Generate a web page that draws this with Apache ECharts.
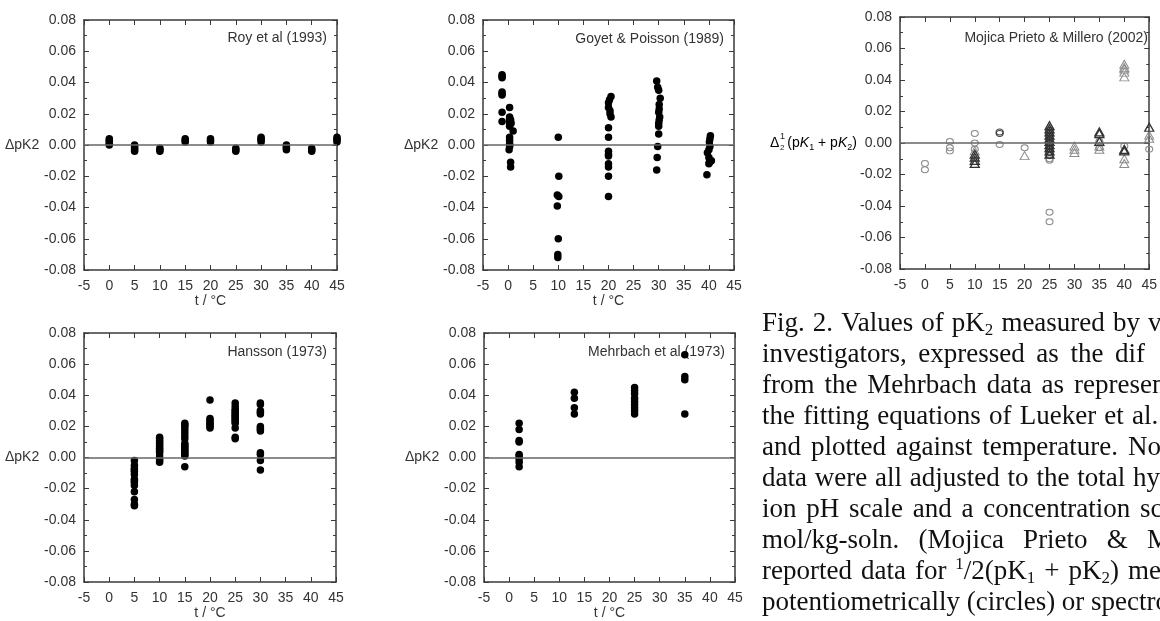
<!DOCTYPE html>
<html><head><meta charset="utf-8">
<script src="https://cdn.jsdelivr.net/npm/echarts@6/dist/echarts.min.js"></script>
<style>html,body{margin:0;padding:0;background:#fff}#c{width:1160px;height:621px}</style>
</head><body><div id="c"></div>
<script>
// ---------------- DATA ----------------
const xTickRange = [-5, 45, 5];
const yTickRange = [-0.08, 0.08, 0.02];

const panelTitles = ['Roy et al (1993)', 'Goyet & Poisson (1989)', 'Mojica Prieto & Millero (2002)', 'Hansson (1973)', 'Mehrbach et al (1973)'];
const yName = 'ΔpK2';
const xName = 't / °C';

const royData = [[0,0.001],[0,0.002],[0,0.003],[0,0.004],[0,0.000],[5,-0.001],[5,-0.002],[5,-0.003],[5,-0.004],[5,0.000],
 [10,-0.002],[10,-0.003],[10,-0.004],[15,0.002],[15,0.003],[15,0.004],[20,0.002],[20,0.003],[20,0.004],
 [25,-0.002],[25,-0.003],[25,-0.004],[30,0.002],[30,0.003],[30,0.004],[30,0.005],[35,0.000],[35,-0.001],[35,-0.002],[35,-0.003],
 [40,-0.002],[40,-0.003],[40,-0.004],[45,0.002],[45,0.003],[45,0.004],[45,0.005]];

const goyetData = [[-1.2,0.045],[-1.2,0.044],[-1.2,0.043],[-1.2,0.034],[-1.2,0.033],[-1.2,0.032],[-1.2,0.021],[-1.2,0.015],
 [0.3,0.024],[0.3,0.018],[0.3,0.017],[0.5,0.016],[0.3,0.015],[0.6,0.014],[0.3,0.013],[0.3,0.012],[1.0,0.009],[0.3,0.005],[0.3,0.003],
 [0.3,0.001],[0.3,0.000],[0.3,-0.001],[0.2,-0.003],[0.5,-0.011],[0.5,-0.014],
 [10,0.005],[10.1,-0.020],[9.8,-0.032],[10.1,-0.033],[9.8,-0.039],[10,-0.060],[9.9,-0.070],[9.9,-0.072],
 [20.5,0.031],[20.2,0.029],[20,0.027],[20,0.024],[20.3,0.022],[20.3,0.020],[20.5,0.018],[20,0.011],[20,0.005],[20,-0.004],[20,-0.006],
 [20,-0.007],[20,-0.012],[20,-0.014],[20,-0.020],[20,-0.033],
 [29.6,0.041],[29.8,0.037],[30,0.035],[30.3,0.030],[30.1,0.026],[30.1,0.023],[30,0.021],[30.2,0.018],[30.1,0.016],[30,0.014],[30,0.012],
 [30,0.007],[29.8,-0.001],[29.7,-0.008],[29.6,-0.016],
 [40.3,0.006],[40.2,0.004],[40.1,0.002],[40.2,-0.001],[40,-0.003],[39.7,-0.005],[40,-0.008],[40.5,-0.010],[40.1,-0.011],[40,-0.012],[39.6,-0.019]];

const mojicaCircLight = [[0,-0.013],[0,-0.017],[5,0.001],[5,-0.003],[5,-0.005],[10,0.006],[10,0.000],[10,-0.004],[15,-0.001],[20,-0.003],
 [25,-0.010],[25,-0.011],[25,-0.044],[25,-0.050],[35,0.001],[35,-0.003],[40,-0.002],[45,-0.004]];
const mojicaCircDark = [[15,0.007],[15,0.006],[25,0.008],[25,0.006],[25,0.004],[25,0.002],[25,0.000],[25,-0.002],[25,-0.004],[25,-0.006],[25,-0.008]];
const mojicaTriLight = [[10,-0.005],[20,-0.008],[30,-0.002],[30,-0.004],[30,-0.006],[35,-0.002],[35,-0.004],
 [40,0.050],[40,0.048],[40,0.047],[40,0.045],[40,0.042],[40,-0.010],[40,-0.013],[45,0.003],[45,0.005]];
const mojicaTriDark = [[10,-0.007],[10,-0.009],[10,-0.011],[10,-0.013],[25,0.011],[25,0.009],[25,0.007],[25,0.005],[25,0.003],[25,0.001],
 [25,-0.001],[25,-0.003],[25,-0.005],[25,-0.007],[35,0.007],[35,0.006],[35,0.001],[40,-0.004],[40,-0.005],[45,0.010]];

const hanssonData = [[5,-0.002],[5,-0.005],[5,-0.007],[5,-0.008],[5,-0.009],[5,-0.011],[5,-0.014],[5,-0.015],[5,-0.016],[5,-0.018],[5,-0.022],[5,-0.027],[5,-0.030],[5,-0.031],
 [10,0.013],[10,0.012],[10,0.011],[10,0.010],[10,0.009],[10,0.008],[10,0.007],[10,0.006],[10,0.005],[10,0.004],[10,0.003],[10,0.001],[10,-0.001],[10,-0.002],[10,-0.003],
 [15,0.022],[15,0.021],[15,0.020],[15,0.018],[15,0.016],[15,0.014],[15,0.012],[15,0.009],[15,0.008],[15,0.007],[15,0.006],[15,0.005],[15,0.004],[15,0.003],[15,0.002],[15,0.001],[15,-0.006],
 [20,0.037],[20,0.025],[20,0.024],[20,0.023],[20,0.022],[20,0.021],[20,0.020],[20,0.019],
 [25,0.035],[25,0.033],[25,0.031],[25,0.030],[25,0.029],[25,0.028],[25,0.027],[25,0.026],[25,0.025],[25,0.024],[25,0.023],[25,0.022],[25,0.019],[25,0.013],[25,0.012],
 [30,0.035],[30,0.034],[30,0.030],[30,0.029],[30,0.028],[30,0.020],[30,0.019],[30,0.018],[30,0.017],[30,0.003],[30,0.002],[30,-0.002],[30,-0.008]];

const mehrbachData = [[2,0.022],[2,0.018],[2,0.011],[2,0.010],[2,0.002],[2,0.001],[2,-0.001],[2,-0.003],[2,-0.006],
 [13,0.042],[13,0.038],[13,0.032],[13,0.028],
 [25,0.045],[25,0.043],[25,0.041],[25,0.038],[25,0.036],[25,0.034],[25,0.032],[25,0.030],[25,0.028],
 [35,0.066],[35,0.052],[35,0.050],[35,0.028]];

const captionLines = [
 'Fig. 2. Values of pK_2 measured by v',
 'investigators, expressed as the dif',
 'from the Mehrbach data as represen',
 'the fitting equations of Lueker et al.',
 'and plotted against temperature. No',
 'data were all adjusted to the total hy',
 'ion pH scale and a concentration sc',
 'mol/kg-soln. (Mojica Prieto & M',
 'reported data for ^1/2(pK_1 + pK_2) me',
 'potentiometrically (circles) or spectro'
];

// ---------------- LAYOUT ----------------
const grids = [
 {left:84, top:20, width:253, height:250},
 {left:483, top:20, width:251, height:250},
 {left:900, top:17, width:251, height:252},
 {left:84, top:333, width:252, height:250},
 {left:484, top:333, width:251, height:250}
];
const titlePos = [[327,38],[724,39],[1148,38],[327,352],[725,352]];
const captionX = 762, captionY0 = 324, captionStep = 31, captionFS = 27, subFS = 17;
const lastWordStart = [1148,1115,1074,1132,1128,1133,1140,1147,1128,1090];

const SANS = '"Liberation Sans", Arial, Helvetica, sans-serif';
const SERIF = '"Liberation Serif", "Times New Roman", serif';
const AX = '#3a3a3a';

function xAxes(i, withName) {
  const base = {type:'value', gridIndex:i, min:xTickRange[0], max:xTickRange[1], interval:xTickRange[2],
    axisLine:{show:true, onZero:false, lineStyle:{color:AX, width:1.5}},
    axisTick:{show:true, inside:true, length:5, lineStyle:{color:AX, width:1}},
    splitLine:{show:false}};
  return [
    Object.assign({}, base, {position:'bottom',
      axisLabel:{show:true, fontSize:14, color:'#333', fontFamily:SANS, margin:9},
      name: withName ? xName : '', nameLocation:'middle', nameGap:31,
      nameTextStyle:{fontSize:14, color:'#333', fontFamily:SANS, align:'center', verticalAlign:'middle'}}),
    Object.assign({}, base, {position:'top', axisLabel:{show:false}})
  ];
}
function yAxes(i, withName) {
  const base = {type:'value', gridIndex:i, min:yTickRange[0], max:yTickRange[1], interval:yTickRange[2],
    axisLine:{show:true, onZero:false, lineStyle:{color:AX, width:1.5}},
    axisTick:{show:true, inside:true, length:5, lineStyle:{color:AX, width:1}},
    minorTick:{show:true, splitNumber:2, length:3, lineStyle:{color:AX, width:1}},
    splitLine:{show:false}};
  return [
    Object.assign({}, base, {position:'left',
      axisLabel:{show:true, fontSize:14, color:'#333', fontFamily:SANS, margin:8, formatter:v=>v.toFixed(2)},
      name: withName ? yName : '', nameLocation:'middle', nameRotate:0, nameGap:41,
      nameTextStyle:{fontSize:14, color:'#333', fontFamily:SANS, align:'right', verticalAlign:'middle'}}),
    Object.assign({}, base, {position:'right', axisLabel:{show:false}})
  ];
}

const xAxis = [], yAxis = [];
for (let i = 0; i < 5; i++) {
  xAxis.push(...xAxes(i, i !== 2));
  yAxis.push(...yAxes(i, i !== 2));
}

const zeroLine = {silent:true, symbol:'none', label:{show:false}, animation:false,
  lineStyle:{color:'#666', width:1.5, type:'solid'}, data:[{yAxis:0}]};

function dots(i, data, extra) {
  return Object.assign({type:'scatter', xAxisIndex:2*i, yAxisIndex:2*i, data:data, symbol:'circle', symbolSize:7.5,
    itemStyle:{color:'#000', opacity:1}, animation:false, z:3}, extra || {});
}
const series = [
  dots(0, royData, {markLine:zeroLine}),
  dots(1, goyetData, {markLine:zeroLine}),
  dots(2, mojicaCircLight, {symbolSize:[7,6], itemStyle:{color:'rgba(0,0,0,0)', borderColor:'#8c8c8c', borderWidth:1, opacity:1}, markLine:zeroLine}),
  dots(2, mojicaCircDark, {symbolSize:[7,6], itemStyle:{color:'rgba(0,0,0,0)', borderColor:'#444', borderWidth:1.2, opacity:1}}),
  dots(2, mojicaTriLight, {symbol:'triangle', symbolSize:[9,8], itemStyle:{color:'rgba(0,0,0,0)', borderColor:'#8c8c8c', borderWidth:1, opacity:1}}),
  dots(2, mojicaTriDark, {symbol:'triangle', symbolSize:[9,8], itemStyle:{color:'rgba(0,0,0,0)', borderColor:'#333', borderWidth:1.3, opacity:1}}),
  dots(3, hanssonData, {markLine:zeroLine}),
  dots(4, mehrbachData, {markLine:zeroLine})
];

// caption (justified lines)
const mctx = document.createElement('canvas').getContext('2d');
function measure(t, fs) { mctx.font = fs + 'px ' + SERIF; return mctx.measureText(t).width; }
function parseWord(w) {
  const segs = [];
  const re = /(\^.|_.)/g; let last = 0, m;
  while ((m = re.exec(w))) {
    if (m.index > last) segs.push(['n', w.slice(last, m.index)]);
    segs.push([m[0][0] === '^' ? 'u' : 's', m[0][1]]);
    last = m.index + 2;
  }
  if (last < w.length) segs.push(['n', w.slice(last)]);
  return segs;
}
const graphics = [];
const normalSpace = measure(' ', captionFS);
captionLines.forEach((line, li) => {
  const words = line.split(' ').map(parseWord);
  let nat = 0;
  for (let k = 0; k < words.length - 1; k++)
    words[k].forEach(s => { nat += measure(s[1], s[0] === 'n' ? captionFS : subFS); });
  const sp = Math.max(normalSpace, (lastWordStart[li] - captionX - nat) / (words.length - 1));
  const text = words.map(ws => ws.map(s => '{' + s[0] + '|' + s[1] + '}').join('')).join('{sp| }');
  graphics.push({type:'text', x:captionX, y:captionY0 + li*captionStep, silent:true,
    style:{text:text, fill:'#111', textVerticalAlign:'middle', textAlign:'left', rich:{
      n:{fontSize:captionFS, fontFamily:SERIF, lineHeight:31, color:'#111'},
      s:{fontSize:subFS, fontFamily:SERIF, lineHeight:17, verticalAlign:'bottom', color:'#111'},
      u:{fontSize:subFS, fontFamily:SERIF, lineHeight:19, verticalAlign:'top', color:'#111'},
      sp:{fontSize:captionFS, fontFamily:SERIF, lineHeight:31, width:sp}
    }}});
});

// panel titles
panelTitles.forEach((t, i) => {
  graphics.push({type:'text', x:titlePos[i][0], y:titlePos[i][1], silent:true,
    style:{text:t, fill:'#333', font:'14px ' + SANS, textAlign:'right', textVerticalAlign:'middle'}});
});

// panel-3 y label: Δ with stacked 1/2, then (pK1 + pK2)
graphics.push({type:'text', x:770, y:143, silent:true, style:{
  text:'{n|Δ}{g| }{n|(p}{i|K}{s|1}{n| + p}{i|K}{s|2}{n|)}', textAlign:'left', textVerticalAlign:'middle',
  rich:{ n:{fontSize:14, fontFamily:SANS, color:'#222', lineHeight:18},
         i:{fontSize:14, fontFamily:SANS, fontStyle:'italic', color:'#222', lineHeight:18},
         s:{fontSize:9, fontFamily:SANS, color:'#222', lineHeight:9, verticalAlign:'bottom'},
         g:{fontSize:14, width:8, lineHeight:18} }}});
graphics.push({type:'text', x:780, y:136.5, silent:true, style:{text:'1', fill:'#222', font:'9px ' + SANS, textAlign:'left', textVerticalAlign:'middle'}});
graphics.push({type:'text', x:780, y:148, silent:true, style:{text:'2', fill:'#222', font:'8px ' + SANS, textAlign:'left', textVerticalAlign:'middle'}});

const chart = echarts.init(document.getElementById('c'), null, {renderer:'canvas'});
chart.setOption({
  animation:false,
  backgroundColor:'#fff',
  grid: grids.map(g => Object.assign({containLabel:false}, g)),
  xAxis: xAxis, yAxis: yAxis, series: series, graphic: graphics
});
</script></body></html>
